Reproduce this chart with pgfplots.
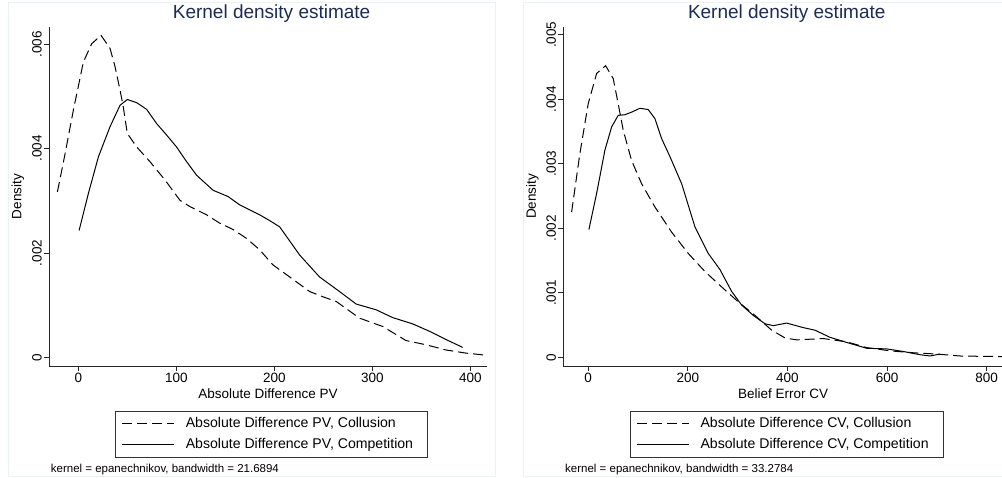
\documentclass[border=0pt]{standalone}
\usepackage{fontspec}
\setmainfont{Liberation Sans}
\usepackage{pgfplots}
\pgfplotsset{compat=1.18}
\definecolor{framec}{RGB}{234,242,243}
\definecolor{titlec}{RGB}{28,44,84}

\pgfplotstableread{
x y
-21.4 0.00317
-13.5 0.00391
-5.1 0.00474
5.1 0.00566
13.6 0.00601
23.1 0.00617
32.3 0.00592
37.4 0.00557
42.5 0.00512
45.8 0.00480
49.9 0.00429
59.5 0.00403
73.0 0.00375
88.3 0.00340
103.6 0.00301
113.7 0.00289
130.8 0.00273
144.3 0.00257
157.8 0.00245
171.5 0.00228
185.0 0.00206
198.6 0.00177
215.6 0.00154
236.0 0.00126
249.5 0.00116
263.1 0.00107
286.9 0.00075
310.6 0.00059
334.4 0.00032
354.8 0.00024
375.2 0.00014
395.5 0.00008
415.9 0.00004
}\pvcol
\pgfplotstableread{
x y
0.7 0.00243
10.2 0.00314
20.4 0.00384
32.3 0.00442
42.5 0.00483
49.9 0.00494
59.5 0.00488
69.7 0.00475
79.8 0.00448
90.0 0.00426
100.2 0.00403
110.4 0.00375
120.6 0.00349
137.5 0.00320
152.8 0.00308
164.7 0.00292
185.0 0.00273
195.2 0.00262
205.4 0.00250
225.8 0.00196
246.1 0.00154
266.5 0.00126
283.5 0.00102
303.9 0.00091
320.8 0.00076
341.2 0.00064
358.1 0.00050
375.2 0.00034
392.1 0.00019
}\pvcomp
\pgfplotstableread{
x y
-33.3 0.00225
-16.7 0.00316
0.0 0.00393
16.9 0.00440
34.9 0.00452
50.2 0.00432
60.2 0.00393
70.3 0.00352
87.1 0.00305
107.2 0.00269
133.9 0.00233
167.5 0.00194
200.8 0.00161
234.3 0.00133
267.9 0.00109
301.2 0.00086
334.7 0.00065
368.3 0.00042
395.0 0.00030
418.5 0.00027
471.9 0.00029
518.9 0.00024
559.0 0.00015
605.8 0.00010
652.6 0.00007
699.6 0.00005
746.4 0.00002
786.5 0.000015
835.0 0.00001
}\cvcol
\pgfplotstableread{
x y
1.4 0.00198
16.9 0.00254
33.5 0.00321
47.0 0.00357
60.2 0.00375
73.7 0.00376
87.1 0.00380
103.8 0.00386
120.5 0.00384
133.9 0.00370
147.4 0.00339
164.1 0.00311
187.6 0.00269
214.3 0.00202
241.0 0.00161
264.5 0.00136
288.0 0.00102
308.0 0.00081
331.3 0.00065
354.8 0.00052
371.5 0.00049
385.0 0.00051
398.4 0.00053
431.7 0.00046
455.2 0.00042
485.3 0.00031
518.9 0.00023
559.0 0.00014
599.2 0.00013
632.5 0.00009
666.0 0.00004
686.1 0.00002
706.2 0.00005
}\cvcomp

\pgfplotsset{
  statastyle/.style={
    scale only axis,
    height=339pt,
    anchor=south west,
    axis x line=bottom, axis y line=left,
    axis line style={-, line width=0.8pt, draw=black!85},
    tick align=outside,
    major tick length=5pt,
    tick style={line width=0.8pt, draw=black!85},
    clip=false,
    scaled y ticks=false, scaled x ticks=false,
    /pgf/number format/assume math mode=true,
    ticklabel style={font=\fontsize{13.5}{15}\selectfont},
    yticklabel style={rotate=90, anchor=south, inner sep=2pt},
    xticklabel style={inner sep=2pt},
    every axis y label/.style={at={(axis description cs:0,0.5)}, xshift=-31pt, rotate=90, anchor=center, font=\fontsize{13.5}{15}\selectfont},
    every axis x label/.style={at={(axis description cs:0.5,0)}, yshift=-28pt, anchor=center, font=\fontsize{13.5}{15}\selectfont},
    every axis title shift=0pt,
    title style={at={(axis description cs:0.5,1)}, anchor=base, yshift=8.7pt, xshift=3.6pt, font=\fontsize{19}{21}\selectfont, text=titlec},
    legend style={at={(axis description cs:0.5,0)}, anchor=north, yshift=-44.7pt, xshift=3.6pt,
      draw=black!80, line width=0.7pt, inner xsep=6pt, inner ysep=6pt,
      font=\fontsize{14.1}{16}\selectfont, row sep=7.2pt,
      nodes={inner sep=0pt, text height=10.5pt, text depth=3pt},
      /tikz/every odd column/.style={column sep=11.3pt}},
    legend cell align=left,
    legend image code/.code={\draw[##1] (0pt,0pt) -- (51.7pt,0pt);},
    coll/.style={black, line width=1pt, dash pattern=on 10pt off 5pt},
    comp/.style={black, line width=1pt},
  }
}

\begin{document}
\begin{tikzpicture}[x=1pt,y=1pt]
\clip (0,0) rectangle (1002,478);
\fill[white] (0,0) rectangle (1002,478);
\draw[framec, line width=1pt] (8.3,1.3) rectangle (495.7,475.3);
\draw[framec, line width=1pt] (523.3,1.3) rectangle (1015,475.3);

\begin{axis}[statastyle,
  at={(49pt,112pt)}, width=438pt,
  xmin=-30, xmax=417, ymin=-0.000167, ymax=0.00633,
  xtick={0,100,200,300,400},
  ytick={0,0.002,0.004,0.006},
  yticklabels={0,.002,.004,.006},
  title={Kernel density estimate},
  xlabel={Absolute Difference PV},
  ylabel={Density},
]
\addplot[coll] table[x=x,y=y] {\pvcol};
\addlegendentry{Absolute Difference PV, Collusion}
\addplot[comp] table[x=x,y=y] {\pvcomp};
\addlegendentry{Absolute Difference PV, Competition\hspace*{8.3pt}}
\end{axis}

\begin{axis}[statastyle,
  at={(563.3pt,112pt)}, width=439.7pt,
  xmin=-50, xmax=832.7, ymin=-0.000135, ymax=0.00512,
  xtick={0,200,400,600,800},
  ytick={0,0.001,0.002,0.003,0.004,0.005},
  yticklabels={0,.001,.002,.003,.004,.005},
  title={Kernel density estimate},
  xlabel={Belief Error CV},
  ylabel={Density},
]
\addplot[coll] table[x=x,y=y] {\cvcol};
\addlegendentry{Absolute Difference CV, Collusion}
\addplot[comp] table[x=x,y=y] {\cvcomp};
\addlegendentry{Absolute Difference CV, Competition\hspace*{8.3pt}}
\end{axis}

\node[anchor=west, inner sep=0pt, font=\fontsize{11.5}{13}\selectfont] at (50.7,8.7) {kernel = epanechnikov, bandwidth = 21.6894};
\node[anchor=west, inner sep=0pt, font=\fontsize{11.5}{13}\selectfont] at (565,8.7) {kernel = epanechnikov, bandwidth = 33.2784};
\end{tikzpicture}
\end{document}
